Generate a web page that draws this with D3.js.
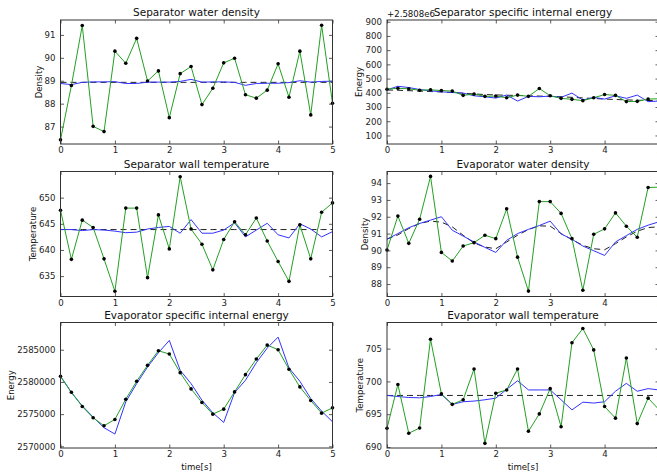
<!DOCTYPE html>
<html>
<head>
<meta charset="utf-8">
<script src="https://cdn.jsdelivr.net/npm/d3@7"></script>
<style>
  body { margin: 0; background: #fff; }
  svg { display: block; font-family: "DejaVu Sans", sans-serif; }
</style>
</head>
<body>
<div id="chart"></div>
<script>
// time samples (s)
const time = [0, 0.2, 0.4, 0.6, 0.8, 1.0, 1.2, 1.4, 1.6, 1.8, 2.0, 2.2, 2.4, 2.6, 2.8,
              3.0, 3.2, 3.4, 3.6, 3.8, 4.0, 4.2, 4.4, 4.6, 4.8, 5.0];

// Separator water density
const sepDensMeas = [86.42, 88.79, 91.41, 87.01, 86.78, 90.29, 89.76, 90.85, 88.99, 89.43, 87.39, 89.31, 89.62,
                     87.96, 88.67, 89.78, 89.98, 88.39, 88.24, 88.59, 89.74, 88.28, 90.29, 87.51, 91.42, 88.02];
const sepDensEst = [88.88, 88.83, 88.93, 88.95, 88.95, 88.96, 88.88, 88.88, 88.94, 88.94, 88.94, 88.97, 89.06,
                    88.94, 88.95, 88.95, 88.93, 88.8, 88.88, 88.89, 88.89, 88.92, 89.0, 88.94, 88.97, 88.98];
const sepDensTrue = [88.93, 88.93, 88.93, 88.93, 88.93, 88.93, 88.93, 88.93, 88.93, 88.93, 88.93, 88.93, 88.93,
                     88.93, 88.93, 88.93, 88.93, 88.93, 88.93, 88.93, 88.93, 88.93, 88.93, 88.93, 88.93, 88.93];

// Separator specific internal energy (offset +2.5808e6)
const sepEnergyMeas = [425, 432, 428, 418, 421, 416, 412, 382, 391, 375, 377, 365, 384,
                       375, 430, 379, 361, 354, 345, 365, 388, 382, 338, 340, 356, 358];
const sepEnergyEst = [421, 446, 437, 423, 414, 407, 402, 398, 379, 372, 363, 384, 342,
                      375, 372, 377, 368, 398, 349, 368, 356, 379, 361, 384, 338, 342];
const sepEnergyTrue = [420, 418, 415, 412, 409, 406, 402, 397, 392, 388, 385, 383, 381,
                       379, 377, 375, 372, 368, 364, 360, 356, 353, 350, 348, 346, 345];

// Separator wall temperature
const sepWallMeas = [647.6, 638.2, 645.7, 644.3, 638.3, 632.1, 648.0, 648.0, 634.7, 646.7, 640.2, 654.0, 644.0,
                     641.1, 636.2, 642.0, 645.4, 642.9, 646.1, 641.7, 637.8, 634.0, 644.8, 638.3, 647.2, 649.0];
const sepWallEst = [643.9, 643.9, 643.7, 643.9, 643.8, 643.6, 643.3, 643.4, 644.0, 644.3, 644.5, 643.2, 645.8,
                    643.2, 643.2, 643.8, 645.2, 642.5, 643.8, 645.1, 642.9, 642.3, 645.0, 644.0, 642.5, 643.5];
const sepWallTrue = [643.9, 643.9, 643.9, 643.9, 643.9, 643.9, 643.9, 643.9, 643.9, 643.9, 643.9, 643.9, 643.9,
                     643.9, 643.9, 643.9, 643.9, 643.9, 643.9, 643.9, 643.9, 643.9, 643.9, 643.9, 643.9, 643.9];

// Evaporator water density
const evapDensMeas = [90.02, 92.04, 90.42, 91.85, 94.4, 89.88, 89.37, 90.26, 90.46, 90.9, 90.7, 92.47, 89.6,
                      87.58, 92.9, 92.9, 92.2, 90.7, 87.63, 90.96, 91.28, 92.23, 91.44, 90.78, 93.74, 93.76];
const evapDensEst = [90.67, 91.0, 91.35, 91.6, 91.8, 92.0, 91.2, 90.85, 90.5, 90.18, 89.88, 90.6, 91.0,
                     91.25, 91.48, 91.74, 90.98, 90.66, 90.26, 89.98, 89.7, 90.5, 90.88, 91.25, 91.5, 91.7];
const evapDensTrue = [90.67, 90.92, 91.3, 91.6, 91.74, 91.68, 91.4, 90.9, 90.44, 90.2, 90.1, 90.5, 90.9,
                      91.24, 91.46, 91.44, 91.0, 90.64, 90.3, 90.1, 90.04, 90.4, 90.8, 91.14, 91.36, 91.4];

// Evaporator specific internal energy
const evapEnergyMeas = [2580876, 2578402, 2576186, 2574433, 2573196, 2574175, 2577320, 2580103, 2582577,
                        2584845, 2584330, 2581443, 2578918, 2576804, 2575000, 2575773, 2578454, 2581134,
                        2583557, 2585722, 2585000, 2581959, 2579227, 2577113, 2575155, 2575979];
const evapEnergyEst = [2580876, 2578350, 2576289, 2574536, 2572887, 2571907, 2576907, 2579742, 2582320,
                       2584536, 2586443, 2581804, 2579742, 2577165, 2575206, 2573711, 2578350, 2580258,
                       2582990, 2585258, 2586959, 2582165, 2580103, 2577423, 2575464, 2573814];

// Evaporator wall temperature
const evapWallMeas = [692.86, 699.54, 692.1, 692.9, 706.43, 698.1, 696.5, 697.2, 701.9, 690.56, 698.2, 698.7, 701.9,
                      692.4, 695.05, 698.9, 693.1, 705.9, 708.06, 704.8, 696.17, 694.4, 703.57, 693.57, 697.45, 695.7];
const evapWallEst = [697.86, 697.7, 697.55, 697.5, 697.7, 698.0, 696.5, 696.9, 697.0, 697.2, 697.45, 698.8, 700.1,
                     698.7, 698.7, 698.7, 697.2, 695.66, 696.84, 696.7, 696.9, 698.5, 699.7, 698.5, 698.9, 698.7];
const evapWallTrue = [697.86, 697.86, 697.86, 697.86, 697.86, 697.86, 697.86, 697.86, 697.86, 697.86, 697.86, 697.86, 697.86,
                      697.86, 697.86, 697.86, 697.86, 697.86, 697.86, 697.86, 697.86, 697.86, 697.86, 697.86, 697.86, 697.86];

// tick values
const xTicks = [0, 1, 2, 3, 4, 5];
const sepDensTicks = [87, 88, 89, 90, 91];
const sepEnergyTicks = [100, 200, 300, 400, 500, 600, 700, 800, 900];
const sepWallTicks = [635, 640, 645, 650];
const evapDensTicks = [88, 89, 90, 91, 92, 93, 94];
const evapEnergyTicks = [2570000, 2575000, 2580000, 2585000];
const evapWallTicks = [690, 695, 700, 705];

/* ============================================= */
/* Layout                                        */
/* ============================================= */

const W = 657, H = 472;
const cols = [{ x0: 60.5, x1: 332.5 }, { x0: 387, x1: 659 }];
const rows = [{ y0: 20, y1: 144 }, { y0: 171.5, y1: 296.5 }, { y0: 322.5, y1: 448 }];

const panels = [
  { col: 0, row: 0, title: 'Separator water density', ylabel: 'Density', labelX: 39,
    domain: [86.24, 91.65], ticks: sepDensTicks, meas: sepDensMeas, est: sepDensEst, truth: sepDensTrue },
  { col: 1, row: 0, title: 'Separator specific internal energy', ylabel: 'Energy', labelX: 359, offset: '+2.5808e6',
    domain: [40, 912], ticks: sepEnergyTicks, meas: sepEnergyMeas, est: sepEnergyEst, truth: sepEnergyTrue },
  { col: 0, row: 1, title: 'Separator wall temperature', ylabel: 'Temperature', labelX: 33,
    domain: [631.1, 655], ticks: sepWallTicks, meas: sepWallMeas, est: sepWallEst, truth: sepWallTrue },
  { col: 1, row: 1, title: 'Evaporator water density', ylabel: 'Density', labelX: 365,
    domain: [87.26, 94.69], ticks: evapDensTicks, meas: evapDensMeas, est: evapDensEst, truth: evapDensTrue },
  { col: 0, row: 2, title: 'Evaporator specific internal energy', ylabel: 'Energy', labelX: 11, xlabel: 'time[s]',
    domain: [2569742, 2589227], ticks: evapEnergyTicks, meas: evapEnergyMeas, est: evapEnergyEst, truth: null },
  { col: 1, row: 2, title: 'Evaporator wall temperature', ylabel: 'Temperature', labelX: 360, xlabel: 'time[s]',
    domain: [689.85, 708.98], ticks: evapWallTicks, meas: evapWallMeas, est: evapWallEst, truth: evapWallTrue }
];

const svg = d3.select('#chart').append('svg')
  .attr('width', W).attr('height', H);

const tickFont = 8.6;

panels.forEach(p => {
  const c = cols[p.col], r = rows[p.row];
  const x = d3.scaleLinear().domain([0, 5]).range([c.x0, c.x1]);
  const y = d3.scaleLinear().domain(p.domain).range([r.y1, r.y0]);
  const g = svg.append('g');

  const line = d3.line().x((d, i) => x(time[i])).y(d => y(d));

  // axes with inward ticks on all four sides
  const styleAxis = sel => {
    sel.select('.domain').remove();
    sel.selectAll('.tick line').attr('stroke', '#333').attr('stroke-width', 0.8);
    sel.selectAll('.tick text').attr('font-size', tickFont).attr('fill', '#222')
      .attr('font-family', '"DejaVu Sans", sans-serif');
  };
  g.append('g').attr('transform', `translate(0,${r.y1})`)
    .call(d3.axisBottom(x).tickValues(xTicks).tickSize(-3.5).tickPadding(3).tickFormat(d3.format('d')))
    .call(styleAxis);
  g.append('g').attr('transform', `translate(0,${r.y0})`)
    .call(d3.axisTop(x).tickValues(xTicks).tickSize(-3.5).tickFormat(''))
    .call(styleAxis);
  g.append('g').attr('transform', `translate(${c.x0},0)`)
    .call(d3.axisLeft(y).tickValues(p.ticks).tickSize(-3.5).tickPadding(5).tickFormat(d3.format('d')))
    .call(styleAxis);
  g.append('g').attr('transform', `translate(${c.x1},0)`)
    .call(d3.axisRight(y).tickValues(p.ticks).tickSize(-3.5).tickFormat(''))
    .call(styleAxis);

  // series
  if (p.truth) {
    g.append('path').datum(p.truth).attr('d', line)
      .attr('fill', 'none').attr('stroke', '#222').attr('stroke-width', 1)
      .attr('stroke-dasharray', '6,4');
  }
  g.append('path').datum(p.est).attr('d', line)
    .attr('fill', 'none').attr('stroke', '#3333ff').attr('stroke-width', 1);
  g.append('path').datum(p.meas).attr('d', line)
    .attr('fill', 'none').attr('stroke', '#23a023').attr('stroke-width', 1);
  g.selectAll('circle.dot').data(p.meas).enter().append('circle')
    .attr('class', 'dot')
    .attr('cx', (d, i) => x(time[i])).attr('cy', d => y(d))
    .attr('r', 1.8).attr('fill', '#000');

  // frame
  g.append('rect')
    .attr('x', c.x0).attr('y', r.y0)
    .attr('width', c.x1 - c.x0).attr('height', r.y1 - r.y0)
    .attr('fill', 'none').attr('stroke', '#333').attr('stroke-width', 1);

  // title
  g.append('text')
    .attr('x', (c.x0 + c.x1) / 2).attr('y', r.y0 - 4)
    .attr('text-anchor', 'middle').attr('font-size', 10.5).attr('fill', '#111')
    .text(p.title);

  if (p.offset) {
    g.append('text')
      .attr('x', c.x0).attr('y', r.y0 - 3)
      .attr('font-size', tickFont).attr('fill', '#111')
      .text(p.offset);
  }

  // y label
  g.append('text')
    .attr('transform', `translate(${p.labelX},${(r.y0 + r.y1) / 2}) rotate(-90)`)
    .attr('text-anchor', 'middle').attr('dominant-baseline', 'middle')
    .attr('font-size', tickFont).attr('fill', '#111')
    .text(p.ylabel);

  if (p.xlabel) {
    g.append('text')
      .attr('x', (c.x0 + c.x1) / 2).attr('y', r.y1 + 22)
      .attr('text-anchor', 'middle').attr('font-size', tickFont).attr('fill', '#111')
      .text(p.xlabel);
  }
});
</script>
</body>
</html>
